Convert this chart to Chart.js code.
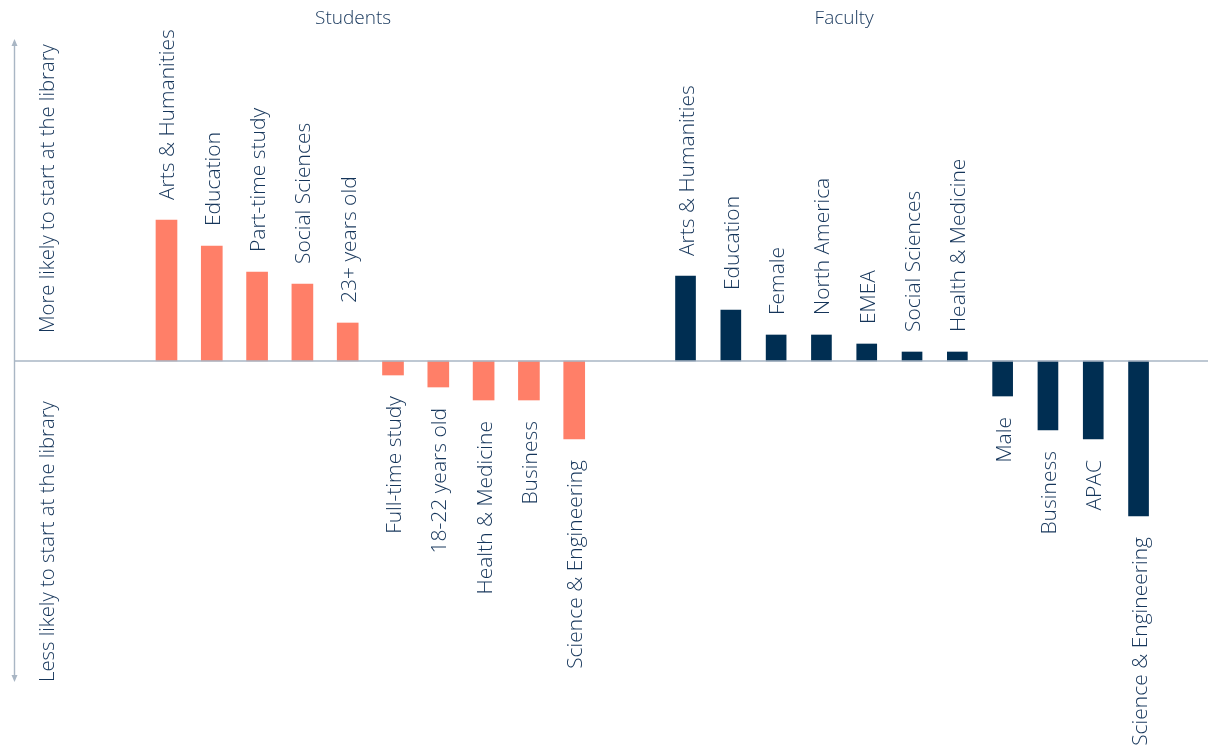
<!DOCTYPE html>
<html>
<head>
<meta charset="utf-8">
<script src="https://cdn.jsdelivr.net/npm/chart.js@4/dist/chart.umd.min.js"></script>
<style>
  html,body{margin:0;padding:0;background:#fff;}
  #wrap{width:1208px;height:749px;position:relative;}
</style>
</head>
<body>
<div id="wrap"><canvas id="canvas-start"></canvas></div>
<script>
const studentLabels=["Arts & Humanities","Education","Part-time study","Social Sciences","23+ years old","Full-time study","18-22 years old","Health & Medicine","Business","Science & Engineering"]
const studentValues=[1.41,1.15,0.89,0.77,0.38,-0.14,-0.26,-0.39,-0.39,-0.78]
const facultyLabels=["Arts & Humanities","Education","Female","North America","EMEA","Social Sciences","Health & Medicine","Male","Business","APAC","Science & Engineering"]
const facultyValues=[0.85,0.51,0.26,0.26,0.17,0.09,0.09,-0.35,-0.69,-0.78,-1.55]
const groupTitles=["Students","Faculty"]
const axisTexts=["More likely to start at the library","Less likely to start at the library"]

// faculty group sits a bit further right than the next slot
const facultyStart=11.457
const salmon="#ff7f68"
const navy="#002e52"
const textColor="#15355a"
const lineColor="#a9b6c4"

const canvas_start=document.querySelector("#canvas-start")

const studentData=studentValues.map((v,i)=>({x:i,y:v}))
const facultyData=facultyValues.map((v,i)=>({x:facultyStart+i,y:v}))

// labels above/below each bar, group titles, left arrow axis
const decorations={
  id:"decorations",
  afterDatasetsDraw(chart){
    const ctx=chart.ctx
    const xs=chart.scales.x, ys=chart.scales.y
    const zero=ys.getPixelForValue(0)

    // zero line
    ctx.save()
    ctx.strokeStyle=lineColor
    ctx.lineWidth=1.6
    ctx.beginPath()
    ctx.moveTo(14,zero)
    ctx.lineTo(chart.width,zero)
    ctx.stroke()

    // left arrow axis
    ctx.lineWidth=1.4
    ctx.beginPath()
    ctx.moveTo(14.5,42)
    ctx.lineTo(14.5,678)
    ctx.stroke()
    ctx.fillStyle=lineColor
    ctx.beginPath()
    ctx.moveTo(14.5,39);ctx.lineTo(11.5,46);ctx.lineTo(17.5,46);ctx.closePath();ctx.fill()
    ctx.beginPath()
    ctx.moveTo(14.5,682);ctx.lineTo(11.5,675);ctx.lineTo(17.5,675);ctx.closePath();ctx.fill()

    ctx.fillStyle=textColor
    ctx.font="300 20.3px 'Open Sans'"
    ctx.textAlign="left"
    ctx.textBaseline="alphabetic"
    ctx.save();ctx.translate(54,333);ctx.rotate(-Math.PI/2);ctx.fillText(axisTexts[0],0,0);ctx.restore()
    ctx.save();ctx.translate(54,682);ctx.rotate(-Math.PI/2);ctx.fillText(axisTexts[1],0,0);ctx.restore()

    // group titles
    ctx.font="300 19px 'Open Sans'"
    ctx.textAlign="center"
    ctx.fillText(groupTitles[0],xs.getPixelForValue(4.12),24)
    ctx.fillText(groupTitles[1],xs.getPixelForValue(14.96),24)

    // bar labels
    ctx.font="300 21px 'Open Sans'"
    const drawLabels=(labels,meta)=>{
      meta.data.forEach((bar,i)=>{
        const val=meta._parsed[i].y
        ctx.save()
        ctx.translate(bar.x+8,val>=0?bar.y-20:bar.y+21)
        ctx.rotate(-Math.PI/2)
        ctx.textAlign=val>=0?"left":"right"
        ctx.fillText(labels[i],0,0)
        ctx.restore()
      })
    }
    drawLabels(studentLabels,chart.getDatasetMeta(0))
    drawLabels(facultyLabels,chart.getDatasetMeta(1))
    ctx.restore()
  }
}

new Chart(canvas_start,{
  type:"bar",
  data:{
    datasets:[{
      label:"Students",
      data:studentData,
      backgroundColor:salmon,
      barThickness:21,
      grouped:false
    },{
      label:"Faculty",
      data:facultyData,
      backgroundColor:navy,
      barThickness:20,
      grouped:false
    }]
  },
  options:{
    responsive:true,
    maintainAspectRatio:false,
    animation:false,
    layout:{padding:0},
    plugins:{
      legend:{display:false},
      title:{display:false},
      tooltip:{enabled:false}
    },
    scales:{
      x:{
        type:"linear",
        display:false,
        offset:false,
        min:-3.675,
        max:22.99
      },
      y:{
        display:false,
        min:-3.88,
        max:3.61
      }
    }
  },
  plugins:[decorations]
})
</script>
</body>
</html>
